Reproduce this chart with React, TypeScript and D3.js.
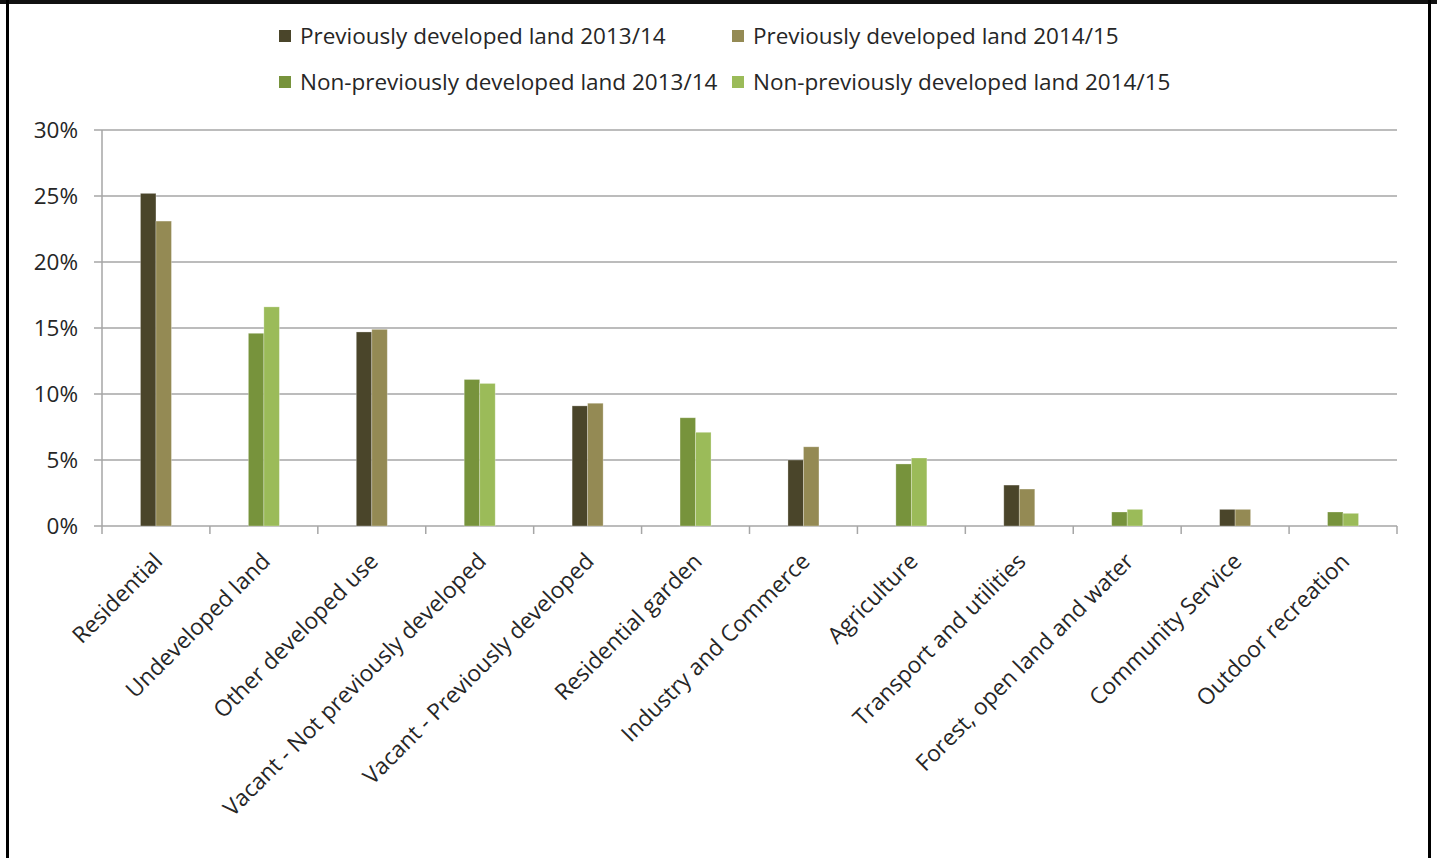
import React from "react";
import * as d3 from "d3";

const categories = [
  "Residential",
  "Undeveloped land",
  "Other developed use",
  "Vacant - Not previously developed",
  "Vacant - Previously developed",
  "Residential garden",
  "Industry and Commerce",
  "Agriculture",
  "Transport and utilities",
  "Forest, open land and water",
  "Community Service",
  "Outdoor recreation",
];

const seriesNames = [
  "Previously developed land 2013/14",
  "Previously developed land 2014/15",
  "Non-previously developed land 2013/14",
  "Non-previously developed land 2014/15",
];
const seriesColors = ["#4a452a", "#948a54", "#77933c", "#9bbb59"];

const pd1314 = [25.2, 0, 14.7, 0, 9.1, 0, 5.0, 0, 3.1, 0, 1.26, 0];
const pd1415 = [23.1, 0, 14.9, 0, 9.3, 0, 6.0, 0, 2.8, 0, 1.26, 0];
const npd1314 = [0, 14.6, 0, 11.1, 0, 8.2, 0, 4.7, 0, 1.06, 0, 1.06];
const npd1415 = [0, 16.6, 0, 10.8, 0, 7.1, 0, 5.15, 0, 1.26, 0, 0.96];
const seriesValues = [pd1314, pd1415, npd1314, npd1415];

const yTicks = [0, 5, 10, 15, 20, 25, 30];

const FONT = "'Open Sans', sans-serif";

export default function App() {
  const W = 1437;
  const H = 858;
  const left = 102;
  const right = 1397;
  const top = 130;
  const bottom = 526;

  const x = d3.scaleBand<string>().domain(categories).range([left, right]).padding(0);
  const y = d3.scaleLinear().domain([0, 30]).range([bottom, top]);
  const barW = 15.5;

  const bars: JSX.Element[] = [];
  categories.forEach((c, i) => {
    const present = seriesValues
      .map((vals, s) => ({ s, v: vals[i] }))
      .filter((d) => d.v > 0);
    const cx = (x(c) as number) + x.bandwidth() / 2;
    const start = cx - (present.length * barW) / 2;
    present.forEach((d, k) => {
      bars.push(
        <rect
          key={`${i}-${d.s}`}
          x={start + k * barW}
          y={y(d.v)}
          width={barW}
          height={bottom - y(d.v)}
          fill={seriesColors[d.s]}
          stroke="#ffffff"
          strokeOpacity={0.35}
          strokeWidth={0.8}
        />
      );
    });
  });

  const legendPos = [
    { x: 279, y: 36 },
    { x: 732, y: 36 },
    { x: 279, y: 82 },
    { x: 732, y: 82 },
  ];

  return (
    <svg
      width={W}
      height={H}
      style={{ position: "absolute", left: 0, top: 0, display: "block", background: "#fff" }}
      fontFamily={FONT}
    >
      <rect x={0} y={0} width={W} height={H} fill="#fff" />
      {/* frame */}
      <rect x={0} y={0} width={W} height={4} fill="#111" />
      <rect x={6} y={0} width={3} height={H} fill="#000" />
      <rect x={1428} y={0} width={3} height={H} fill="#000" />

      {/* gridlines */}
      {yTicks.map((t) => (
        <line key={t} x1={94} x2={right} y1={y(t)} y2={y(t)} stroke="#a6a6a6" strokeWidth={1.5} />
      ))}
      {/* y tick labels */}
      {yTicks.map((t) => (
        <text
          key={"l" + t}
          x={78}
          y={y(t)}
          dy="0.36em"
          textAnchor="end"
          fontSize={22.5}
          fill="#262626"
        >
          {t + "%"}
        </text>
      ))}
      {/* y axis */}
      <line x1={left} x2={left} y1={top} y2={bottom + 8} stroke="#a6a6a6" strokeWidth={1.5} />
      {/* x ticks */}
      {categories.map((c, i) => (
        <line
          key={"t" + i}
          x1={(x(c) as number) + x.bandwidth()}
          x2={(x(c) as number) + x.bandwidth()}
          y1={bottom}
          y2={bottom + 8}
          stroke="#a6a6a6"
          strokeWidth={1.5}
        />
      ))}

      {bars}

      {/* x labels */}
      {categories.map((c) => {
        const cx = (x(c) as number) + x.bandwidth() / 2;
        return (
          <text
            key={"x" + c}
            transform={`translate(${cx + 2},${bottom + 31}) rotate(-45)`}
            textAnchor="end"
            dy="0.36em"
            fontSize={22.7}
            fill="#262626"
          >
            {c}
          </text>
        );
      })}

      {/* legend */}
      {seriesNames.map((n, s) => (
        <g key={n} transform={`translate(${legendPos[s].x},${legendPos[s].y})`}>
          <rect x={0} y={-6} width={12} height={12} fill={seriesColors[s]} />
          <text x={21} y={0} dy="0.36em" fontSize={22.5} fill="#262626">
            {n}
          </text>
        </g>
      ))}
    </svg>
  );
}
